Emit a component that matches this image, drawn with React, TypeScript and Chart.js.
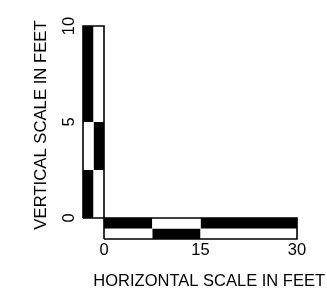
import React, { useEffect, useRef } from "react";
import { Chart, registerables } from "chart.js";

Chart.register(...registerables);

// ---- data ----
const V_BOUNDS = [0, 2.5, 5, 10]; // vertical scale segment boundaries (ft)
const V_LEFT_BLACK = [true, false, true]; // left column, bottom to top
const V_RIGHT_BLACK = [false, true, false]; // right column, bottom to top
const H_BOUNDS = [0, 7.5, 15, 30]; // horizontal scale segment boundaries (ft)
const H_TOP_BLACK = [true, false, true]; // top row, left to right
const H_BOTTOM_BLACK = [false, true, false]; // bottom row, left to right
const X_TICKS = [0, 15, 30];
const Y_TICKS = [0, 5, 10];
const X_TITLE = "HORIZONTAL SCALE IN FEET";
const Y_TITLE = "VERTICAL SCALE IN FEET";

// ---- geometry in data units ----
const V_BAR_W = 3.264; // width of vertical bar, in horizontal-scale feet
const H_BAR_H = 1.094; // height of horizontal bar, in vertical-scale feet
const X_MAX = 34.35;
const Y_MAX = 10.78;

const FONT = { family: "'Liberation Sans', Arial, Helvetica, sans-serif", size: 16.5 };
const Y_TITLE_FONT = { family: "'Liberation Sans', Arial, Helvetica, sans-serif", size: 16.7 };

function rect(x0: number, x1: number, y0: number, y1: number, black: boolean) {
  return {
    type: "line" as const,
    data: [
      { x: x0, y: y1 },
      { x: x1, y: y1 },
    ],
    borderWidth: 0,
    borderColor: "rgba(0,0,0,0)",
    backgroundColor: black ? "#000000" : "#ffffff",
    pointRadius: 0,
    pointHoverRadius: 0,
    fill: { value: y0 },
    order: 2,
    clip: false as const,
  };
}

function outline(x0: number, x1: number, y0: number, y1: number) {
  return {
    type: "line" as const,
    data: [
      { x: x0, y: y0 },
      { x: x0, y: y1 },
      { x: x1, y: y1 },
      { x: x1, y: y0 },
      { x: x0, y: y0 },
    ],
    borderWidth: 1.6,
    borderColor: "#000000",
    backgroundColor: "rgba(0,0,0,0)",
    pointRadius: 0,
    pointHoverRadius: 0,
    fill: false,
    order: 0,
    clip: false as const,
  };
}

export default function App() {
  const ref = useRef<HTMLCanvasElement | null>(null);

  useEffect(() => {
    if (!ref.current) return;
    const datasets: any[] = [];
    const vMid = -V_BAR_W / 2;
    for (let i = 0; i < V_BOUNDS.length - 1; i++) {
      datasets.push(rect(-V_BAR_W, vMid, V_BOUNDS[i], V_BOUNDS[i + 1], V_LEFT_BLACK[i]));
      datasets.push(rect(vMid, 0, V_BOUNDS[i], V_BOUNDS[i + 1], V_RIGHT_BLACK[i]));
    }
    const hMid = -H_BAR_H / 2;
    for (let i = 0; i < H_BOUNDS.length - 1; i++) {
      datasets.push(rect(H_BOUNDS[i], H_BOUNDS[i + 1], hMid, 0, H_TOP_BLACK[i]));
      datasets.push(rect(H_BOUNDS[i], H_BOUNDS[i + 1], -H_BAR_H, hMid, H_BOTTOM_BLACK[i]));
    }
    datasets.push(outline(-V_BAR_W, 0, 0, V_BOUNDS[V_BOUNDS.length - 1]));
    datasets.push(outline(0, H_BOUNDS[H_BOUNDS.length - 1], -H_BAR_H, 0));

    const chart = new Chart(ref.current, {
      type: "line",
      data: { datasets },
      options: {
        animation: false,
        responsive: false,
        events: [],
        layout: { padding: { top: 11, right: 2, bottom: 0, left: 0 } },
        plugins: { legend: { display: false }, tooltip: { enabled: false } },
        scales: {
          x: {
            type: "linear",
            min: -V_BAR_W,
            max: X_MAX,
            grid: { display: false, drawTicks: false },
            border: { display: false },
            afterBuildTicks: (s: any) => {
              s.ticks = X_TICKS.map((v) => ({ value: v }));
            },
            afterFit: (s: any) => {
              s.height = 58;
              s.paddingLeft = 0;
              s.paddingRight = 0;
            },
            ticks: {
              color: "#000",
              font: FONT,
              padding: 2,
              maxRotation: 0,
              minRotation: 0,
              autoSkip: false,
              callback: (v: any) => String(v),
            },
            title: {
              display: true,
              text: X_TITLE,
              align: "end",
              color: "#000",
              font: FONT,
              padding: 6,
            },
          },
          y: {
            type: "linear",
            min: -H_BAR_H,
            max: Y_MAX,
            grid: { display: false, drawTicks: false },
            border: { display: false },
            afterBuildTicks: (s: any) => {
              s.ticks = Y_TICKS.map((v) => ({ value: v }));
            },
            afterFit: (s: any) => {
              s.width = 83;
              s.paddingTop = 0;
              s.paddingBottom = 0;
            },
            ticks: {
              color: "#000",
              font: FONT,
              padding: 4.5,
              minRotation: 90,
              maxRotation: 90,
              crossAlign: "center",
              autoSkip: false,
              callback: (v: any) => String(v),
            },
            title: {
              display: true,
              text: Y_TITLE,
              align: "center",
              color: "#000",
              font: Y_TITLE_FONT,
              padding: 31,
            },
          },
        },
      } as any,
    });
    return () => chart.destroy();
  }, []);

  return (
    <div style={{ position: "absolute", left: 0, top: 0, width: 327, height: 297, background: "#fff" }}>
      <canvas ref={ref} width={327} height={297} style={{ display: "block" }} />
    </div>
  );
}
